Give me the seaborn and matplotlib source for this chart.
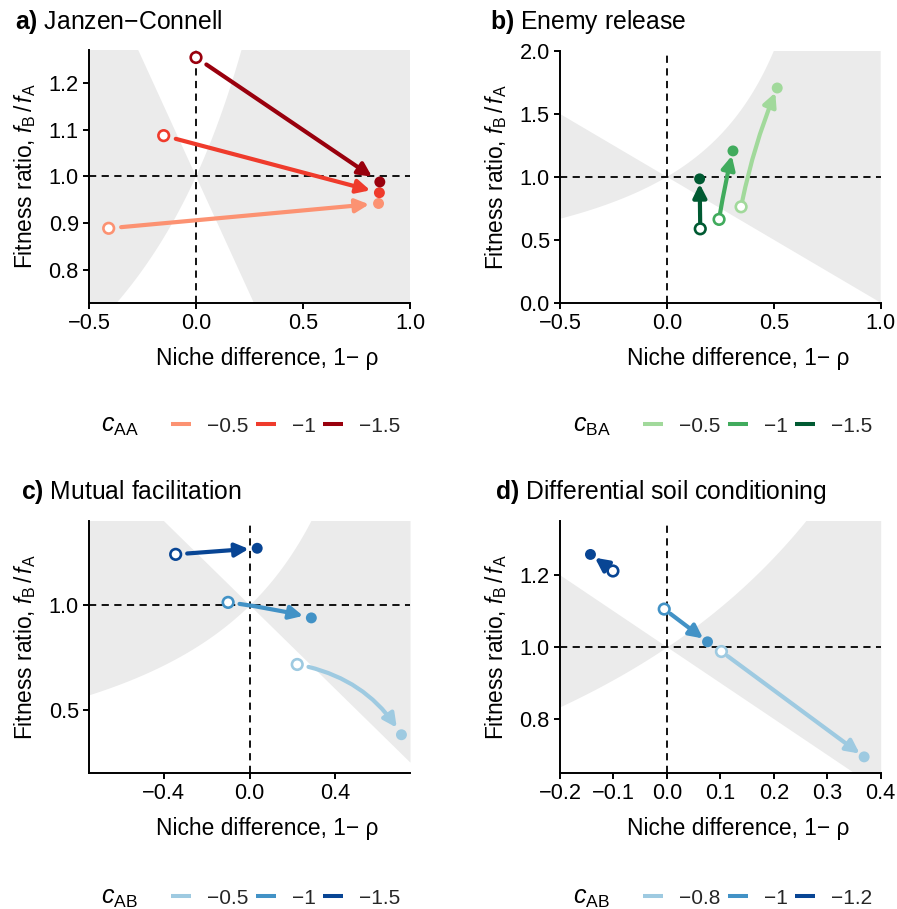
import numpy as np
import pandas as pd
import matplotlib
matplotlib.use("Agg")
import matplotlib.pyplot as plt
import seaborn as sns
from matplotlib.lines import Line2D

sns.set_theme(style="ticks")
plt.rcParams['font.family'] = ['Liberation Sans', 'DejaVu Sans']
plt.rcParams['mathtext.fontset'] = 'custom'
plt.rcParams['mathtext.rm'] = 'Liberation Sans'
plt.rcParams['mathtext.it'] = 'Liberation Sans:italic'
plt.rcParams['mathtext.bf'] = 'Liberation Sans:bold'

W, H = 897, 909

# ---- data ----
# a) Janzen-Connell
jc_levels = ["−0.5", "−1", "−1.5"]
jc_x0 = [-0.408, -0.151, 0.000]
jc_y0 = [0.889, 1.087, 1.254]
jc_x1 = [0.853, 0.857, 0.859]
jc_y1 = [0.942, 0.965, 0.988]

# b) Enemy release
er_levels = ["−0.5", "−1", "−1.5"]
er_x0 = [0.347, 0.244, 0.156]
er_y0 = [0.762, 0.662, 0.587]
er_x1 = [0.516, 0.309, 0.153]
er_y1 = [1.706, 1.206, 0.984]

# c) Mutual facilitation
mf_levels = ["−0.5", "−1", "−1.5"]
mf_x0 = [0.223, -0.100, -0.345]
mf_y0 = [0.716, 1.012, 1.241]
mf_x1 = [0.710, 0.289, 0.036]
mf_y1 = [0.381, 0.938, 1.270]

# d) Differential soil conditioning
sc_levels = ["−0.8", "−1", "−1.2"]
sc_x0 = [0.102, -0.005, -0.101]
sc_y0 = [0.987, 1.105, 1.211]
sc_x1 = [0.369, 0.076, -0.143]
sc_y1 = [0.694, 1.014, 1.257]

reds = ["#FC9272", "#EF3B2C", "#99000D"]
greens = ["#A1D99B", "#41AB5D", "#005A32"]
blues = ["#9ECAE1", "#4292C6", "#084594"]

panels = [
    dict(letter="a)", name="Janzen−Connell", levels=jc_levels, x0=jc_x0, y0=jc_y0, x1=jc_x1, y1=jc_y1,
         colors=reds, xlim=(-0.5, 1.0), ylim=(0.73, 1.27), xticks=[-0.5, 0, 0.5, 1.0],
         yticks=[0.8, 0.9, 1.0, 1.1, 1.2], leg=r"$c_{\mathrm{AA}}$", rad=[0, 0, 0], shrink=(9, 6.8),
         box=(89, 50, 410, 302.7), title_xy=(15, 29), leg_xy=(101, 426)),
    dict(letter="b)", name="Enemy release", levels=er_levels, x0=er_x0, y0=er_y0, x1=er_x1, y1=er_y1,
         colors=greens, xlim=(-0.5, 1.0), ylim=(0.0, 2.0), xticks=[-0.5, 0, 0.5, 1.0],
         yticks=[0, 0.5, 1.0, 1.5, 2.0], leg=r"$c_{\mathrm{BA}}$", rad=[-0.05, -0.02, 0], shrink=(4.5, 3.6),
         box=(560, 51, 880.7, 302.7), title_xy=(490, 29), leg_xy=(573, 426)),
    dict(letter="c)", name="Mutual facilitation", levels=mf_levels, x0=mf_x0, y0=mf_y0, x1=mf_x1, y1=mf_y1,
         colors=blues, xlim=(-0.75, 0.75), ylim=(0.2, 1.4), xticks=[-0.4, 0, 0.4],
         yticks=[0.5, 1.0], leg=r"$c_{\mathrm{AB}}$", rad=[-0.22, -0.03, 0], shrink=(8.3, 6.1),
         box=(89, 521, 410, 772.7), title_xy=(21, 499), leg_xy=(101, 898)),
    dict(letter="d)", name="Differential soil conditioning", levels=sc_levels, x0=sc_x0, y0=sc_y0, x1=sc_x1, y1=sc_y1,
         colors=blues, xlim=(-0.2, 0.4), ylim=(0.65, 1.35), xticks=[-0.2, -0.1, 0, 0.1, 0.2, 0.3, 0.4],
         yticks=[0.8, 1.0, 1.2], leg=r"$c_{\mathrm{AB}}$", rad=[0, 0, 0], shrink=(5.5, 4),
         box=(560, 521, 880.7, 772.7), title_xy=(495, 499), leg_xy=(573, 898)),
]

fig = plt.figure(figsize=(W / 100, H / 100), dpi=100)

for p in panels:
    l, t, r, b = p["box"]
    ax = fig.add_axes([l / W, 1 - b / H, (r - l) / W, (b - t) / H])
    df = pd.DataFrame({"level": p["levels"], "x0": p["x0"], "y0": p["y0"],
                       "x1": p["x1"], "y1": p["y1"]})
    pal = dict(zip(p["levels"], p["colors"]))

    # coexistence / priority region: between rho and 1/rho, rho = 1 - niche difference
    xs = np.linspace(p["xlim"][0], min(p["xlim"][1], 0.9999), 600)
    rho = 1 - xs
    lo = np.minimum(rho, 1 / rho)
    hi = np.minimum(np.maximum(rho, 1 / rho), 10)
    ax.fill_between(xs, lo, hi, color="#EBEBEB", lw=0, zorder=0)

    ax.axhline(1, color="black", lw=1.3, dashes=(4, 3), zorder=1)
    ax.axvline(0, color="black", lw=1.3, dashes=(4, 3), zorder=1)

    sa, sb = p["shrink"]
    for i, row in df.iterrows():
        ax.annotate("", xy=(row.x1, row.y1), xytext=(row.x0, row.y0),
                    arrowprops=dict(arrowstyle="-|>", color=pal[row.level], lw=3.0,
                                    mutation_scale=20, shrinkA=sa, shrinkB=sb,
                                    connectionstyle=f"arc3,rad={p['rad'][i]}"),
                    zorder=2)

    sns.scatterplot(data=df, x="x1", y="y1", hue="level", palette=pal, s=62,
                    linewidth=0, legend=False, ax=ax, zorder=4)
    ax.scatter(df.x0, df.y0, s=58, facecolors="white",
               edgecolors=[pal[v] for v in df.level], linewidths=1.9, zorder=4)

    ax.set_xlim(p["xlim"])
    ax.set_ylim(p["ylim"])
    ax.set_xticks(p["xticks"])
    ax.set_yticks(p["yticks"])
    ax.tick_params(labelsize=15.7, width=1.4, length=4.3, pad=3, color="black", labelcolor="black")
    for s in ["top", "right"]:
        ax.spines[s].set_visible(False)
    for s in ["left", "bottom"]:
        ax.spines[s].set_linewidth(1.4)
        ax.spines[s].set_color("black")

    ax.set_xlabel("Niche difference, 1− ρ", fontsize=16.4, color="black")
    ax.set_ylabel(r"Fitness ratio, $f_{\mathrm{B}}\,/\,f_{\mathrm{A}}$", fontsize=16.4, color="black")
    ax.xaxis.set_label_coords(0.555, -0.175)
    ax.yaxis.set_label_coords(-0.16, 0.5)

    tx, ty = p["title_xy"]
    fig.text(tx / W, 1 - ty / H, r"$\mathbf{" + p["letter"] + "}$ " + p["name"],
             fontsize=17.8, va="baseline", ha="left", color="black")

    lx, ly = p["leg_xy"]
    fig.text(lx / W, 1 - ly / H, p["leg"], fontsize=18, va="center", ha="left", color="black")
    handles = [Line2D([0], [0], color=c, lw=2.9, solid_capstyle="butt") for c in p["colors"]]
    fig.legend(handles, p["levels"], loc="center left", bbox_to_anchor=((lx + 70) / W, 1 - ly / H),
               ncol=3, frameon=False, fontsize=15, handlelength=0.95, handletextpad=0.78,
               columnspacing=0.35, borderpad=0, borderaxespad=0)

fig.savefig("out.png", dpi=100)
